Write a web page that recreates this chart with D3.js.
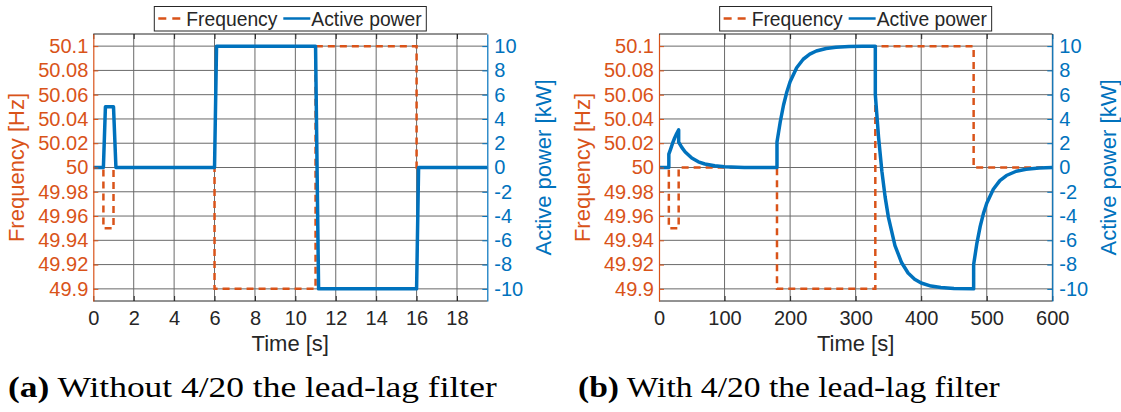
<!DOCTYPE html>
<html lang="en">
<head>
  <meta charset="UTF-8">
  <title>Frequency and active power</title>
  <script src="https://d3js.org/d3.v7.min.js"></script>
  <style>
    body { margin: 0; background: #fff; }
    svg { display: block; }
    .sans { font-family: "Liberation Sans", Arial, sans-serif; }
    .serif { font-family: "Liberation Serif", "Times New Roman", serif; }
  </style>
</head>
<body>
<div id="chart"></div>
<script>
// ---- data ----
const freqTicks  = [49.9, 49.92, 49.94, 49.96, 49.98, 50, 50.02, 50.04, 50.06, 50.08, 50.1];
const powerTicks = [-10, -8, -6, -4, -2, 0, 2, 4, 6, 8, 10];
const timeTicksA = [0, 2, 4, 6, 8, 10, 12, 14, 16, 18];
const timeTicksB = [0, 100, 200, 300, 400, 500, 600];

// (a) without lead-lag filter
const freqTimeA  = [0, 0.5, 0.5, 1.0, 1.0, 6, 6, 11, 11, 16, 16, 19.5];
const freqA      = [50, 50, 49.95, 49.95, 50, 50, 49.9, 49.9, 50.1, 50.1, 50, 50];
const powerTimeA = [0, 0.5, 0.6, 1.0, 1.12, 6.0, 6.1, 11.0, 11.15, 16.0, 16.1, 19.5];
const powerA     = [0, 0, 5, 5, 0, 0, 10, 10, -10, -10, 0, 0];

// (b) with 4/20 lead-lag filter
const freqTimeB  = [0, 15, 15, 30, 30, 180, 180, 330, 330, 480, 480, 600];
const freqB      = [50, 50, 49.95, 49.95, 50, 50, 49.9, 49.9, 50.1, 50.1, 50, 50];
const powerTimeB = [0, 15, 15, 18, 21, 24, 27, 30, 30, 35, 40, 50, 60, 70, 85, 100, 130, 180,
                    180, 185, 190, 195, 200, 210, 220, 230, 240, 255, 270, 290, 310, 330,
                    330, 335, 340, 345, 350, 360, 370, 380, 390, 400, 415, 430, 450, 480,
                    480, 485, 490, 495, 500, 510, 520, 530, 545, 560, 580, 600];
const powerB     = [0, 0, 1.1, 1.56, 2.04, 2.45, 2.8, 3.1, 2.1, 1.64, 1.28, 0.78, 0.47, 0.29, 0.14, 0.06, 0.01, 0,
                    2.1, 3.77, 5.15, 6.22, 7.06, 8.22, 8.92, 9.34, 9.6, 9.81, 9.91, 9.97, 9.99, 10,
                    6.0, 2.46, -0.3, -2.44, -4.11, -6.43, -7.83, -8.69, -9.2, -9.52, -9.77, -9.89, -9.97, -10,
                    -8.0, -6.23, -4.85, -3.78, -2.94, -1.79, -1.08, -0.66, -0.31, -0.15, -0.05, 0];

const legendLabels = ["Frequency", "Active power"];
const axisLabels = {x: "Time [s]", freq: "Frequency [Hz]", power: "Active power [kW]"};
const captionTags = ["(a)", "(b)"];
const captionTexts = [" Without 4/20 the lead-lag filter", " With 4/20 the lead-lag filter"];

// ---- style ----
const orange = "#D95319", blue = "#0072BD", ink = "#262626", gridCol = "#6a6a6a";
const tickFs = 20, labelFs = 22, legendFs = 19.3;

const svg = d3.select("#chart").append("svg")
  .attr("width", 1121).attr("height", 412);

const panels = [
  {x0: 93.3, x1: 487.3, tmax: 19.5, ticks: timeTicksA,
   ft: freqTimeA, f: freqA, pt: powerTimeA, p: powerA, capX: 8, capW: 489},
  {x0: 659, x1: 1052.3, tmax: 600, ticks: timeTicksB,
   ft: freqTimeB, f: freqB, pt: powerTimeB, p: powerB, capX: 578, capW: 422}
];
const plotTop = 34, plotBottom = 301;

panels.forEach((P, k) => {
  const x = d3.scaleLinear().domain([0, P.tmax]).range([P.x0, P.x1]);
  const yF = d3.scaleLinear().domain([49.89, 50.11]).range([plotBottom, plotTop]);
  const yP = d3.scaleLinear().domain([-11, 11]).range([plotBottom, plotTop]);
  const g = svg.append("g").attr("class", "sans");

  // grid
  g.append("g").selectAll("line").data(P.ticks.filter(t => t > 0)).join("line")
    .attr("x1", d => x(d)).attr("x2", d => x(d)).attr("y1", plotTop).attr("y2", plotBottom)
    .attr("stroke", gridCol).attr("stroke-width", 1);
  g.append("g").selectAll("line").data(freqTicks).join("line")
    .attr("x1", P.x0).attr("x2", P.x1).attr("y1", d => yF(d)).attr("y2", d => yF(d))
    .attr("stroke", gridCol).attr("stroke-width", 1);

  // series
  const clipId = "clip" + k;
  g.append("clipPath").attr("id", clipId).append("rect")
    .attr("x", P.x0).attr("y", plotTop).attr("width", P.x1 - P.x0).attr("height", plotBottom - plotTop);

  const fLine = d3.line().x(d => x(d[0])).y(d => yF(d[1]));
  const pLine = d3.line().x(d => x(d[0])).y(d => yP(d[1]));
  g.append("path").datum(d3.zip(P.ft, P.f)).attr("d", fLine)
    .attr("clip-path", `url(#${clipId})`)
    .attr("fill", "none").attr("stroke", orange).attr("stroke-width", 2.5)
    .attr("stroke-dasharray", "7,5");
  g.append("path").datum(d3.zip(P.pt, P.p)).attr("d", pLine)
    .attr("clip-path", `url(#${clipId})`)
    .attr("fill", "none").attr("stroke", blue).attr("stroke-width", 3.5)
    .attr("stroke-linejoin", "round");

  // box top/bottom
  [plotTop, plotBottom].forEach(yy => g.append("line")
    .attr("x1", P.x0).attr("x2", P.x1).attr("y1", yy).attr("y2", yy)
    .attr("stroke", ink).attr("stroke-width", 1));

  // axes
  const xb = g.append("g").attr("transform", `translate(0,${plotBottom})`)
    .call(d3.axisBottom(x).tickValues(P.ticks).tickSizeInner(-5).tickSizeOuter(0).tickPadding(10));
  xb.select(".domain").remove();
  xb.selectAll("line").attr("stroke", ink);
  xb.selectAll("text").attr("fill", ink).style("font-size", tickFs + "px");

  const xt = g.append("g").attr("transform", `translate(0,${plotTop})`)
    .call(d3.axisTop(x).tickValues(P.ticks).tickSizeInner(-5).tickSizeOuter(0).tickFormat(""));
  xt.select(".domain").remove();
  xt.selectAll("line").attr("stroke", ink);

  const yl = g.append("g").attr("transform", `translate(${P.x0},0)`)
    .call(d3.axisLeft(yF).tickValues(freqTicks).tickSizeInner(-5).tickSizeOuter(0)
      .tickPadding(5).tickFormat(d3.format("~g")));
  yl.select(".domain").attr("stroke", orange).attr("stroke-width", 1.2);
  yl.selectAll("line").attr("stroke", orange);
  yl.selectAll("text").attr("fill", orange).style("font-size", tickFs + "px");

  const yr = g.append("g").attr("transform", `translate(${P.x1},0)`)
    .call(d3.axisRight(yP).tickValues(powerTicks).tickSizeInner(-5).tickSizeOuter(0)
      .tickPadding(7).tickFormat(d => String(d)));
  yr.select(".domain").attr("stroke", blue).attr("stroke-width", 1.2);
  yr.selectAll("line").attr("stroke", blue);
  yr.selectAll("text").attr("fill", blue).style("font-size", tickFs + "px");

  // the axis groups set their own font-family attribute; keep the sans family
  g.selectAll("g").attr("font-family", null);

  // axis labels
  const cx = (P.x0 + P.x1) / 2, cy = (plotTop + plotBottom) / 2;
  g.append("text").attr("x", cx).attr("y", 351).attr("text-anchor", "middle")
    .style("font-size", labelFs + "px").attr("fill", ink).text(axisLabels.x);
  g.append("text").attr("transform", `translate(${P.x0 - 69},${cy}) rotate(-90)`)
    .attr("text-anchor", "middle").style("font-size", labelFs + "px").attr("fill", orange).text(axisLabels.freq);
  g.append("text").attr("transform", `translate(${P.x1 + 64},${cy}) rotate(-90)`)
    .attr("text-anchor", "middle").style("font-size", labelFs + "px").attr("fill", blue).text(axisLabels.power);

  // legend
  const lx = cx - 136, lg = g.append("g");
  lg.append("rect").attr("x", lx).attr("y", 6.5).attr("width", 272).attr("height", 24.5)
    .attr("fill", "#fff").attr("stroke", ink).attr("stroke-width", 1);
  lg.append("line").attr("x1", lx + 4).attr("x2", lx + 30).attr("y1", 18.5).attr("y2", 18.5)
    .attr("stroke", orange).attr("stroke-width", 2.5).attr("stroke-dasharray", "8,6");
  lg.append("text").attr("x", lx + 32).attr("y", 25.5).style("font-size", legendFs + "px").attr("fill", ink)
    .text(legendLabels[0]);
  lg.append("line").attr("x1", lx + 129).attr("x2", lx + 156).attr("y1", 18.5).attr("y2", 18.5)
    .attr("stroke", blue).attr("stroke-width", 2.5);
  lg.append("text").attr("x", lx + 157).attr("y", 25.5).style("font-size", legendFs + "px").attr("fill", ink)
    .text(legendLabels[1]);

  // caption
  const cap = svg.append("text").attr("class", "serif").attr("y", 397)
    .style("font-size", "29px").attr("fill", "#000");
  cap.append("tspan").attr("font-weight", "bold").text(captionTags[k]);
  cap.append("tspan").text(captionTexts[k]);
  const w = cap.node().getComputedTextLength();
  cap.attr("transform", `translate(${P.capX},0) scale(${P.capW / w},1)`);
});
</script>
</body>
</html>
